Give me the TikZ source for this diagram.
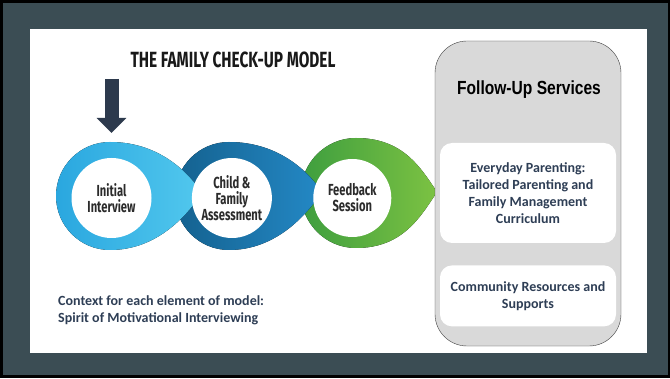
\documentclass[tikz,border=0pt]{standalone}
\usepackage{fontspec}
\usetikzlibrary{arrows.meta,positioning}
\newfontfamily\condfont[FakeStretch=0.70]{Fira Sans}
\newfontfamily\titlefont[FakeStretch=0.70]{Fira Sans}
\newfontfamily\narrowfont[FakeStretch=0.82]{Liberation Sans}
\newfontfamily\calfont{Carlito}
\definecolor{framegray}{HTML}{3B4D54}
\definecolor{arrownavy}{HTML}{2D3A4D}
\definecolor{textnavy}{HTML}{2E3E55}
\definecolor{stagetext}{HTML}{2B2B2B}
\definecolor{panelgray}{HTML}{D9D9D9}
\definecolor{ltblueA}{HTML}{2AA7DF}
\definecolor{ltblueB}{HTML}{52C8EE}
\definecolor{dkblueA}{HTML}{14618F}
\definecolor{dkblueB}{HTML}{2489C6}
\definecolor{greenA}{HTML}{3E9E3F}
\definecolor{greenB}{HTML}{7CC242}
% drop: centre x, centre y, radius, tip x, tip y, left colour, right colour
\newcommand{\drop}[7]{%
  \fill[left color=#6, right color=#7] (#4,#5)
    .. controls ({#4-0.3*#3},{#5+0.45*#3}) and ({#1+0.85*#3},{#2+#3}) .. (#1,{#2+#3})
    arc[start angle=90, end angle=270, radius=#3]
    .. controls ({#1+0.85*#3},{#2-#3}) and ({#4-0.3*#3},{#5-0.45*#3}) .. (#4,#5) -- cycle;}

\begin{document}
\begin{tikzpicture}[x=1pt, y=1pt]
      \tikzstyle{stage} = [circle, fill=white, minimum size=80pt, inner sep=0pt, align=center, text=stagetext, font={\condfont\bfseries\fontsize{16}{16}\selectfont}]
      \tikzstyle{panel} = [rectangle, draw=black!75, fill=panelgray, rounded corners=32pt, minimum width=186pt, minimum height=305pt]
      \tikzstyle{itembox} = [rectangle, fill=white, rounded corners=12pt, minimum width=176pt, inner sep=0pt, align=center, text=textnavy, font={\calfont\bfseries\fontsize{14}{17}\selectfont}]
      \tikzstyle{line} = [draw=arrownavy, line width=14pt, -{Triangle[width=29pt, length=15pt]}]
        \useasboundingbox (0,0) rectangle (670,378);
        % frame and slide
        \fill[black] (0,0) rectangle (670,378);
        \fill[framegray] (3,3) rectangle (668,375);
        \fill[white] (30,25) rectangle (647,349);
        \node [font={\titlefont\bfseries\fontsize{22}{22}\selectfont}, text=black!90] (title) at (233,318) {THE FAMILY CHECK-UP MODEL};
        % teardrops, back to front
        \drop{356}{185}{55}{437}{186}{greenA}{greenB}
        \drop{229}{182}{54}{322}{186}{dkblueA}{dkblueB}
        \drop{110}{182}{54}{202}{185}{ltblueA}{ltblueB}
        \node [stage] (interview) at (111.5,180) {Initial\\Interview};
        \node [stage, right=40pt of interview] (assessment) {Child \&\\Family\\Assessment};
        \node [stage, minimum size=78pt, right=41pt of assessment] (feedback) {Feedback\\Session};
        \coordinate (arrowtop) at (111.5,299);
        \path [line] (arrowtop) -- ([yshift=25pt]interview.north);
        \node [anchor=north west, inner sep=0pt, align=left, text=textnavy, font={\calfont\bfseries\fontsize{14}{17}\selectfont}] (context) at (58,83) {Context for each element of model:\\Spirit of Motivational Interviewing};
        % follow-up services
        \node [panel] (followup) at (528,184.5) {};
        \node [font={\narrowfont\bfseries\fontsize{19}{19}\selectfont}] (followtitle) at (529,288) {Follow-Up Services};
        \node [itembox, minimum height=100pt] (parenting) at (528,185) {Everyday Parenting:\\Tailored Parenting and\\Family Management\\Curriculum};
        \node [itembox, minimum height=61pt, below=22pt of parenting] (community) {Community Resources and\\Supports};
      \end{tikzpicture}
\end{document}
